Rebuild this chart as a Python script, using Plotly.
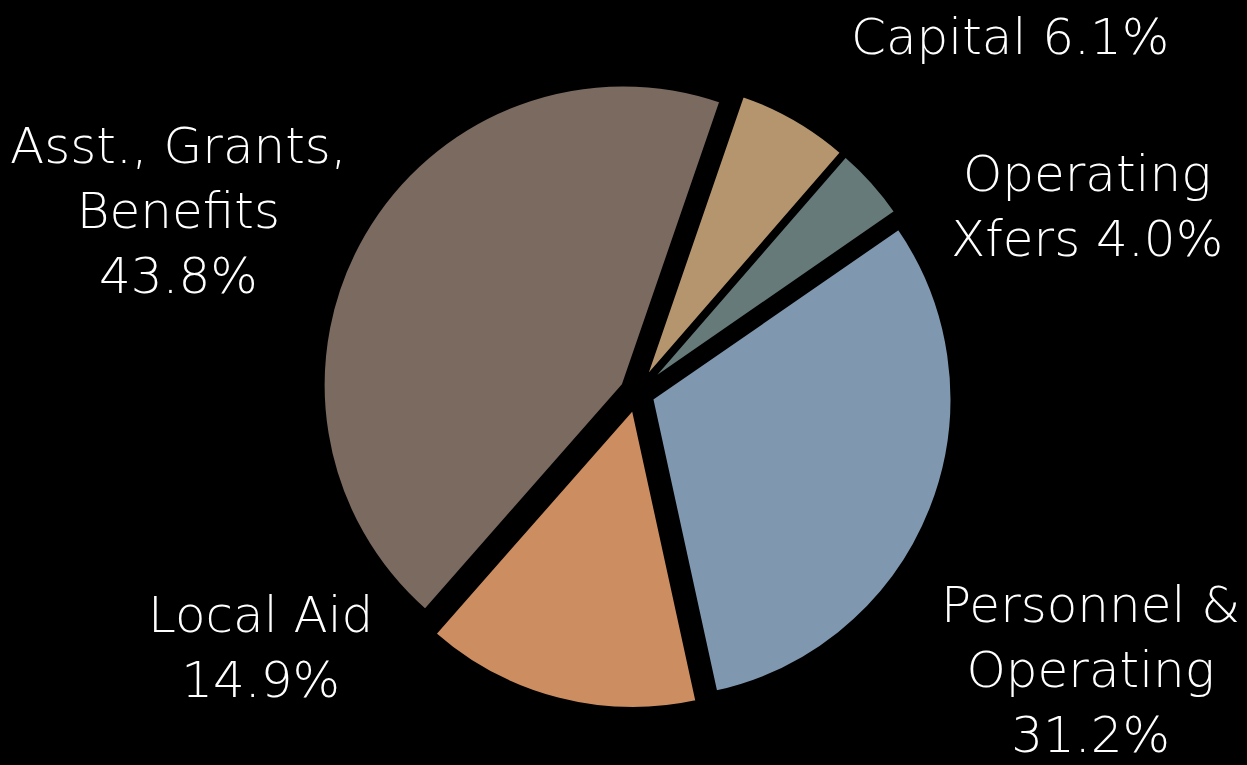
import plotly.graph_objects as go

# Data
categories = ["Capital", "Operating Xfers", "Personnel & Operating", "Local Aid", "Asst., Grants, Benefits"]
label_text = ["Capital", "Operating<br>Xfers", "Personnel &<br>Operating", "Local Aid", "Asst., Grants,<br>Benefits"]
label_sep = [" ", " ", "<br>", "<br>", "<br>"]
values = [6.1, 4.0, 31.2, 14.9, 43.8]
colors = ["#B5956E", "#677A7A", "#7F98B0", "#CC8D60", "#7B6A60"]

W, H = 1247, 765

fig = go.Figure()
fig.add_trace(go.Pie(
    labels=categories,
    values=values,
    sort=False,
    direction="clockwise",
    rotation=19,
    pull=[0.053] * len(values),
    marker=dict(colors=colors, line=dict(color="#000000", width=3)),
    textinfo="none",
    hoverinfo="label+percent",
    showlegend=False,
    domain=dict(x=[(637 - 360) / W, (637 + 360) / W], y=[(H - 709) / H, (H - 77) / H]),
))

# label anchor positions (pixels) for each category
label_px = [(1010, 37), (1087, 207), (1090, 670), (260, 647), (178, 211)]

for txt, sep, v, (px, py) in zip(label_text, label_sep, values, label_px):
    fig.add_annotation(
        x=px / W, y=1 - py / H, xref="paper", yref="paper",
        text=f"{txt}{sep}{v:.1f}%",
        showarrow=False, xanchor="center", yanchor="middle", align="center",
        font=dict(family="DejaVu Sans, sans-serif", size=50, color="#FFFFFF", weight=200),
    )

fig.update_layout(
    width=W, height=H,
    paper_bgcolor="#000000", plot_bgcolor="#000000",
    margin=dict(l=0, r=0, t=0, b=0),
)

fig.write_html("out.html")
